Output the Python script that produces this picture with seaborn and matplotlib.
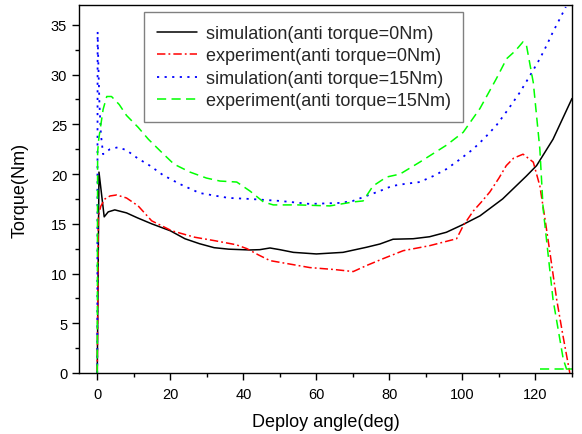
import numpy as np
import pandas as pd
import matplotlib
matplotlib.use("Agg")
import matplotlib.pyplot as plt
from matplotlib.ticker import MultipleLocator
import seaborn as sns

# ---- data ----
sim0_x = [0, 0.47, 1.9, 3, 4.8, 8, 11, 14.9, 20, 24, 28, 32, 36, 41.8, 44.5, 47.3, 50,
          53.7, 60, 67.3, 73.7, 77.4, 81, 86.5, 91, 95.6, 100, 104.8, 111, 117.5, 120.3,
          124.8, 130]
sim0_y = [0, 20.2, 15.7, 16.2, 16.4, 16.1, 15.6, 15.0, 14.3, 13.5, 13.0, 12.6, 12.45,
          12.37, 12.4, 12.57, 12.4, 12.13, 11.97, 12.13, 12.64, 12.97, 13.45, 13.5, 13.7,
          14.15, 14.9, 15.8, 17.5, 19.8, 20.85, 23.5, 27.6]

exp0_x = [0, 0.15, 0.3, 1.0, 2.1, 3.5, 5.3, 8, 11.2, 14.9, 20.4, 26.7, 32.2, 38, 41,
          44, 47.3, 52, 58.2, 65, 70.1, 73.7, 78.3, 83.8, 91, 98.4, 100.2, 103, 105.2,
          107.5, 110, 112, 114, 116.6, 119.4, 121.2, 122.6, 124, 125.8, 127.5, 129.4]
exp0_y = [0, 8, 15.8, 16.8, 17.5, 17.8, 17.9, 17.6, 16.8, 15.3, 14.3, 13.65, 13.3, 12.9,
          12.5, 11.9, 11.3, 11.0, 10.6, 10.4, 10.2, 10.8, 11.5, 12.3, 12.8, 13.5, 14.8,
          16.3, 17.2, 18.2, 19.6, 20.85, 21.6, 22.0, 21.2, 18.8, 15.5, 12.0, 7.4, 3.8, 0]

sim15_x = [0, 0.1, 0.3, 0.6, 1.0, 1.6, 2.1, 3.5, 5.7, 8, 11, 14.4, 18, 22.6, 28, 32.7,
           36, 41.8, 50, 58.2, 66.4, 70, 73.7, 77.4, 80.7, 84, 88.3, 92, 95.6, 99, 102.9,
           106, 109.3, 112.5, 115.7, 118.5, 121.2, 123, 124.8, 126.5, 128.3]
sim15_y = [0, 34.3, 31, 27, 24, 22.0, 22.2, 22.5, 22.7, 22.4, 21.6, 20.85, 19.9, 19.0,
           18.1, 17.8, 17.6, 17.5, 17.3, 17.0, 17.1, 17.3, 17.8, 18.3, 18.8, 19.0, 19.2,
           19.8, 20.5, 21.4, 22.5, 23.6, 24.9, 26.5, 28.2, 29.9, 31.6, 32.9, 34.3, 35.5,
           36.8]

exp15_x = [0, 0.1, 0.4, 0.8, 1.6, 2.6, 3.9, 6, 8, 11.2, 14, 17.6, 21, 25.4, 29.9, 33.6,
           38.2, 41.8, 45.5, 48.2, 55, 63.7, 70.1, 72.8, 75.5, 79.2, 82.9, 88.3, 95.6,
           100.2, 104.8, 109.3, 112.1, 114.5, 116.6, 117.5, 119.4, 121.2, 122.1, 124.8,
           127.6, 128.5, 130]
exp15_y = [0, 22.2, 23.5, 24.5, 26.5, 27.8, 27.8, 27.0, 25.9, 24.7, 23.5, 22.2, 21.0,
           20.2, 19.6, 19.3, 19.2, 18.3, 17.2, 16.9, 16.9, 16.8, 17.2, 17.3, 18.8, 19.7,
           20.0, 21.2, 22.9, 24.2, 26.6, 29.6, 31.6, 32.4, 33.3, 33.0, 29.2, 22.5, 16.5,
           7.4, 1.4, 0.4, 0.4]
exp15_tail_x = [121.2, 130]
exp15_tail_y = [0.4, 0.4]

labels = ["simulation(anti torque=0Nm)", "experiment(anti torque=0Nm)",
          "simulation(anti torque=15Nm)", "experiment(anti torque=15Nm)"]
x_ticks = [0, 20, 40, 60, 80, 100, 120]
y_ticks = [0, 5, 10, 15, 20, 25, 30, 35]

sns.set_theme(style="white")
plt.rcParams["font.family"] = ["Liberation Sans", "DejaVu Sans"]

fig = plt.figure(figsize=(5.82, 4.35), dpi=100)
ax = fig.add_axes([79/582, 61/435, 493/582, 368/435])

series = [
    (sim0_x, sim0_y, labels[0], "#000000", "-", 1.1),
    (exp0_x, exp0_y, labels[1], "#ff0000", (0, (5.5, 2, 1.2, 2)), 1.1),
    (sim15_x, sim15_y, labels[2], "#0000ff", (0, (1.2, 3.0)), 1.3),
    (exp15_x, exp15_y, labels[3], "#00ff00", (0, (6, 3.5)), 1.1),
]
for xs, ys, lab, col, ls, lw in series:
    df = pd.DataFrame({"x": xs, "y": ys})
    sns.lineplot(data=df, x="x", y="y", ax=ax, sort=False, estimator=None,
                 color=col, linestyle=ls, linewidth=lw, label=lab)

df_tail = pd.DataFrame({"x": exp15_tail_x, "y": exp15_tail_y})
sns.lineplot(data=df_tail, x="x", y="y", ax=ax, sort=False, estimator=None,
             color="#00ff00", linestyle=(0, (6, 3.5)), linewidth=1.1, legend=False)

ax.set_xlim(-5, 130)
ax.set_ylim(0, 37)
ax.set_xticks(x_ticks)
ax.set_yticks(y_ticks)
ax.xaxis.set_minor_locator(MultipleLocator(10))
ax.yaxis.set_minor_locator(MultipleLocator(2.5))
ax.tick_params(which="major", direction="out", length=5, width=1, color="black",
               labelsize=10.5, labelcolor="black", bottom=True, left=True,
               top=False, right=False)
ax.tick_params(axis="x", which="major", pad=5)
ax.tick_params(which="minor", direction="out", length=3, width=1, color="black",
               bottom=True, left=True, top=False, right=False)
for s in ax.spines.values():
    s.set_color("black")
    s.set_linewidth(1.0)

ax.set_xlabel("Deploy angle(deg)", fontsize=13, color="black", labelpad=9)
ax.set_ylabel("Torque(Nm)", fontsize=13, color="black", labelpad=16)

leg = ax.legend(loc="upper left", bbox_to_anchor=(0.1325, 0.98), fontsize=13,
                frameon=True, fancybox=False, edgecolor="#808080", framealpha=1,
                handlelength=2.2, handletextpad=0.5, labelspacing=0.3,
                borderpad=0.7, borderaxespad=0)
leg.get_frame().set_linewidth(1.0)

fig.savefig("out.png", dpi=100)
